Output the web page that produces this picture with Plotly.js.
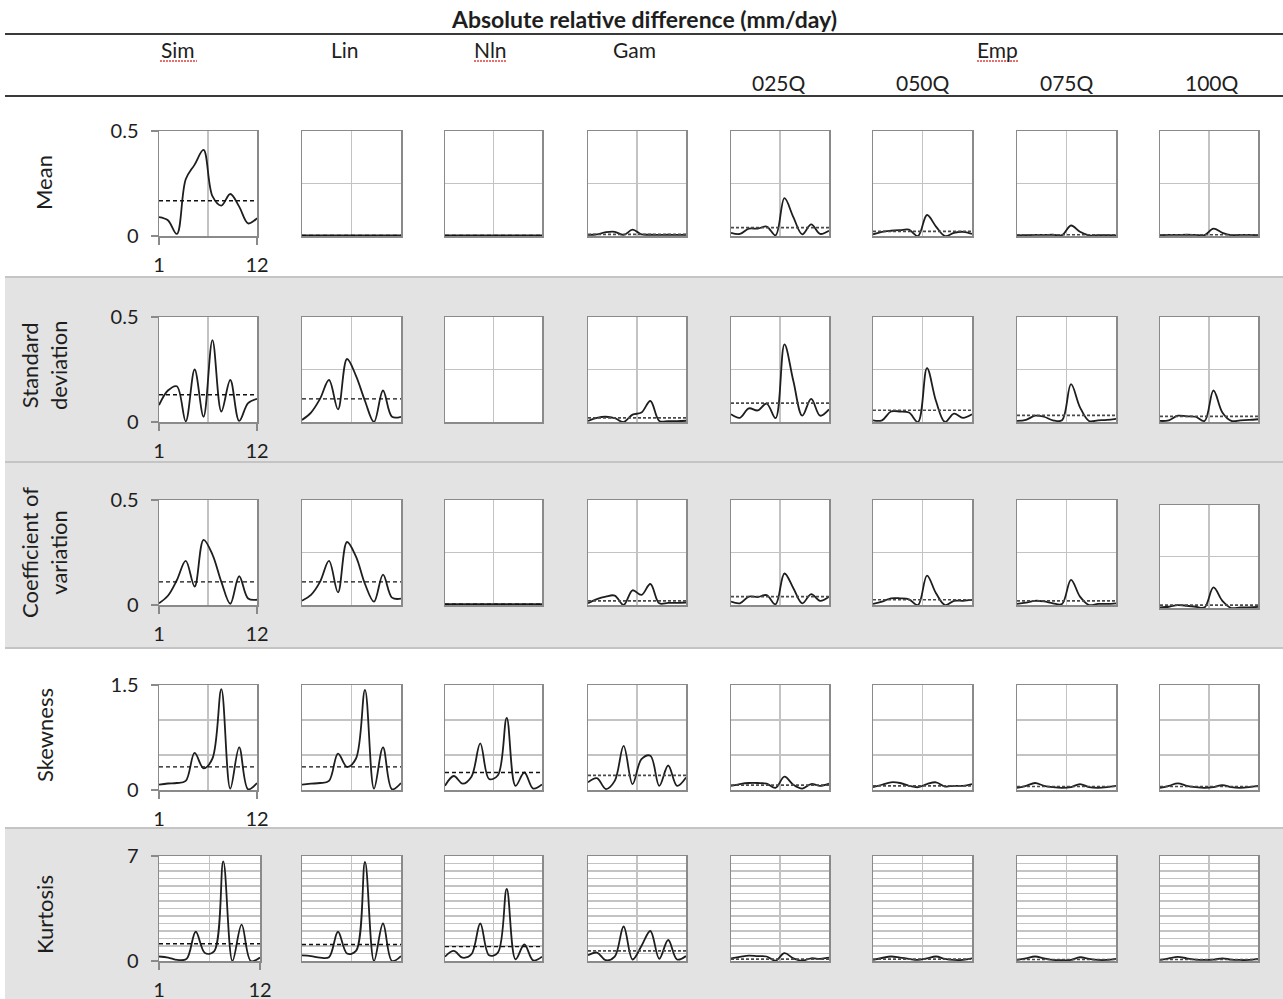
<!DOCTYPE html>
<html>
<head>
<meta charset="utf-8">
<script src="https://cdn.plot.ly/plotly-3.0.1.min.js"></script>
<style>html,body{margin:0;padding:0;background:#fff;}#chart{width:1283px;height:999px;}</style>
</head>
<body>
<div id="chart"></div>
<script>
// ---------- data ----------
const months = [1,2,3,4,5,6,7,8,9,10,11,12];
const columnLabels = ['Sim','Lin','Nln','Gam','025Q','050Q','075Q','100Q'];
const groupLabels = ['Sim','Lin','Nln','Gam','Emp'];
const rowLabels = ['Mean','Standard<br>deviation','Coefficient of<br>variation','Skewness','Kurtosis'];
const chartTitle = 'Absolute relative difference (mm/day)';
const xTickText = ['1','12'];

// Mean
const meanSim = [0.09,0.075,0.01,0.27,0.34,0.41,0.19,0.145,0.2,0.14,0.06,0.085];
const meanLin = [0.003,0.003,0.003,0.003,0.003,0.003,0.003,0.003,0.003,0.003,0.003,0.003];
const meanNln = [0.003,0.003,0.003,0.003,0.003,0.003,0.003,0.003,0.003,0.003,0.003,0.003];
const meanGam = [0.005,0.008,0.018,0.02,0.005,0.03,0.008,0.006,0.005,0.006,0.005,0.006];
const mean025Q = [0.015,0.01,0.035,0.035,0.045,0.003,0.18,0.09,0.008,0.055,0.01,0.025];
const mean050Q = [0.008,0.02,0.025,0.028,0.03,0.0,0.1,0.045,0.0,0.015,0.02,0.01];
const mean075Q = [0.003,0.004,0.005,0.005,0.006,0.004,0.05,0.02,0.003,0.004,0.004,0.003];
const mean100Q = [0.004,0.005,0.005,0.006,0.005,0.004,0.035,0.015,0.004,0.005,0.005,0.004];
const meanAvg = [0.168,0.003,0.003,0.008,0.04,0.022,0.006,0.006];

// Standard deviation
const sdSim = [0.08,0.15,0.17,0.003,0.25,0.025,0.39,0.05,0.2,0.005,0.09,0.11];
const sdLin = [0.01,0.045,0.11,0.2,0.06,0.3,0.22,0.1,0.0,0.15,0.025,0.025];
const sdNln = [null,null,null,null,null,null,null,null,null,null,null,null];
const sdGam = [0.005,0.02,0.025,0.018,0.0,0.035,0.045,0.1,0.005,0.004,0.004,0.006];
const sd025Q = [0.037,0.02,0.065,0.055,0.088,0.018,0.37,0.195,0.03,0.11,0.03,0.06];
const sd050Q = [0.008,0.008,0.05,0.05,0.045,0.0,0.257,0.1,0.0,0.04,0.02,0.037];
const sd075Q = [0.005,0.01,0.03,0.025,0.008,0.008,0.18,0.07,0.005,0.008,0.01,0.015];
const sd100Q = [0.005,0.008,0.03,0.027,0.025,0.005,0.15,0.045,0.005,0.008,0.01,0.013];
const sdAvg = [0.13,0.11,null,0.02,0.09,0.056,0.032,0.027];

// Coefficient of variation
const cvSim = [0.008,0.044,0.118,0.21,0.088,0.31,0.24,0.11,0.006,0.137,0.031,0.025];
const cvLin = [0.02,0.048,0.11,0.21,0.06,0.3,0.23,0.1,0.016,0.145,0.035,0.03];
const cvNln = [0.004,0.004,0.004,0.004,0.004,0.004,0.004,0.004,0.004,0.004,0.004,0.004];
const cvGam = [0.008,0.028,0.04,0.045,0.0,0.07,0.048,0.1,0.008,0.01,0.01,0.012];
const cv025Q = [0.016,0.008,0.04,0.038,0.047,0.003,0.15,0.08,0.008,0.052,0.02,0.04];
const cv050Q = [0.005,0.016,0.032,0.032,0.027,0.0,0.14,0.056,0.0,0.02,0.02,0.024];
const cv075Q = [0.005,0.011,0.02,0.017,0.008,0.005,0.12,0.04,0.0,0.005,0.005,0.008];
const cv100Q = [0.003,0.006,0.014,0.011,0.006,0.003,0.1,0.035,0.0,0.003,0.003,0.005];
const cvAvg = [0.11,0.11,0.004,0.02,0.04,0.025,0.02,0.014];

// Skewness
const skSim = [0.078,0.093,0.1,0.13,0.53,0.31,0.45,1.44,0.02,0.61,0.01,0.1];
const skLin = [0.078,0.09,0.1,0.13,0.52,0.33,0.45,1.43,0.02,0.61,0.01,0.1];
const skNln = [0.062,0.2,0.09,0.19,0.667,0.157,0.21,1.03,0.06,0.25,0.02,0.08];
const skGam = [0.11,0.17,0.014,0.13,0.63,0.085,0.44,0.49,0.06,0.35,0.06,0.18];
const sk025Q = [0.06,0.085,0.1,0.1,0.09,0.03,0.19,0.075,0.02,0.085,0.06,0.09];
const sk050Q = [0.04,0.075,0.11,0.1,0.06,0.04,0.085,0.11,0.05,0.06,0.06,0.085];
const sk075Q = [0.03,0.06,0.1,0.06,0.04,0.03,0.04,0.085,0.04,0.03,0.04,0.06];
const sk100Q = [0.03,0.06,0.095,0.06,0.04,0.03,0.04,0.07,0.04,0.03,0.04,0.06];
const skAvg = [0.33,0.33,0.25,0.21,0.07,0.06,0.05,0.05];

// Kurtosis
const kuSim = [0.3,0.23,0.07,0.14,1.95,0.53,0.64,6.64,0.0,2.43,0.0,0.23];
const kuLin = [0.38,0.33,0.22,0.25,1.95,0.5,0.67,6.6,0.0,2.5,0.0,0.33];
const kuNln = [0.29,0.67,0.22,0.45,2.5,0.38,0.56,4.8,0.11,1.1,0.04,0.29];
const kuGam = [0.38,0.56,0.05,0.29,2.3,0.1,1.0,2.0,0.15,1.4,0.1,0.33];
const ku025Q = [0.18,0.27,0.36,0.32,0.3,0.02,0.52,0.18,0.02,0.18,0.14,0.22];
const ku050Q = [0.07,0.2,0.3,0.23,0.14,0.07,0.18,0.3,0.14,0.07,0.07,0.18];
const ku075Q = [0.07,0.18,0.3,0.18,0.07,0.05,0.07,0.25,0.14,0.07,0.07,0.14];
const ku100Q = [0.07,0.18,0.27,0.18,0.09,0.07,0.09,0.18,0.09,0.07,0.07,0.14];
const kuAvg = [1.15,1.1,0.96,0.67,0.13,0.12,0.1,0.1];

// axis scales per row
const rowMax = [0.5,0.5,0.5,1.5,7];
const rowMaxText = ['0.5','0.5','0.5','1.5','7'];
const rowGrid = [[0.25],[0.25],[0.25],[0.5,1.0],[0.5,1,1.5,2,2.5,3,3.5,4,4.5,5,5.5,6,6.5]];

const rowSeries = [
  [meanSim,meanLin,meanNln,meanGam,mean025Q,mean050Q,mean075Q,mean100Q],
  [sdSim,sdLin,sdNln,sdGam,sd025Q,sd050Q,sd075Q,sd100Q],
  [cvSim,cvLin,cvNln,cvGam,cv025Q,cv050Q,cv075Q,cv100Q],
  [skSim,skLin,skNln,skGam,sk025Q,sk050Q,sk075Q,sk100Q],
  [kuSim,kuLin,kuNln,kuGam,ku025Q,ku050Q,ku075Q,ku100Q]
];
const rowAvg = [meanAvg,sdAvg,cvAvg,skAvg,kuAvg];

// ---------- layout geometry (pixels) ----------
const W = 1283, H = 999;
const colX = [[159,257],[302,401],[445,542],[588,686],[731,829],[873,972],[1017,1116],[1160,1258]];
const rowY = [[131,236],[317,422],[500,605],[685,790],[856,961]];
function boxFor(r,c){
  let x = colX[c].slice(), y = rowY[r].slice();
  if(r===4 && c===0){ x=[159,260]; }
  if(r===2 && c===7){ y=[505,608]; }
  return {x,y};
}
const fx = p => p/W;
const fy = p => 1 - p/H;

const FONT = 'Lato, "Open Sans", sans-serif';
const TXT = '#1e1e1e';
const BOX = '#8a8a8a';
const GRID = '#c3c3c3';
const GRAYBG = '#e3e3e3';

const traces = [];
const layout = {
  width: W, height: H, autosize: false,
  margin: {l:0,r:0,t:0,b:0},
  paper_bgcolor: '#ffffff', plot_bgcolor: '#ffffff',
  showlegend: false,
  font: {family: FONT, color: TXT, size: 18},
  shapes: [], annotations: []
};

// background bands (drawn first)
layout.shapes.push({type:'rect',xref:'paper',yref:'paper',x0:fx(5),x1:1,y0:fy(278),y1:fy(647),fillcolor:GRAYBG,line:{width:0},layer:'below'});
layout.shapes.push({type:'rect',xref:'paper',yref:'paper',x0:fx(5),x1:1,y0:0,y1:fy(829),fillcolor:GRAYBG,line:{width:0},layer:'below'});

for(let r=0;r<5;r++){
  for(let c=0;c<8;c++){
    const k = r*8+c+1;
    const b = boxFor(r,c);
    const xa = 'xaxis'+k, ya = 'yaxis'+k;
    const isSim = c===0;
    const emp = c>=3;
    // white panel background
    layout.shapes.push({type:'rect',xref:'x'+k+' domain',yref:'y'+k+' domain',x0:0,x1:1,y0:0,y1:1,fillcolor:'#ffffff',line:{width:0},layer:'below'});
    layout[xa] = {
      domain:[fx(b.x[0]),fx(b.x[1])], anchor:'y'+k, range:[1,12], fixedrange:true,
      showline:true, mirror:true, linecolor:BOX, linewidth:1.5, zeroline:false,
      showgrid:false,
      tickmode:'array', tickvals: isSim?[1,12]:[], ticktext: isSim?xTickText:[],
      ticks: isSim?'outside':'', ticklen:7, tickcolor:BOX, tickwidth:1.3,
      showticklabels:isSim, ticklabelstandoff:3,
      tickfont:{family:FONT,size:20,color:TXT},
      minor:{tickmode:'array', tickvals:[6.5], showgrid:true, gridcolor:GRID, gridwidth:1.3, ticks:''}
    };
    const yax = {
      domain:[fy(b.y[1]),fy(b.y[0])], anchor:'x'+k, range:[0,rowMax[r]], fixedrange:true,
      showline:true, mirror:true, linecolor:BOX, linewidth:1.5, zeroline:false,
      tickfont:{family:FONT,size:20,color:TXT}
    };
    if(isSim){
      Object.assign(yax,{tickmode:'array', tickvals:[0,rowMax[r]], ticktext:['0',rowMaxText[r]],
        ticks:'outside', ticklen:7, tickcolor:BOX, tickwidth:1.3, showgrid:false, showticklabels:true, ticklabelstandoff:8});
      if(r>=3){ yax.minor = {tickmode:'array', tickvals:rowGrid[r], showgrid:true, gridcolor:GRID, gridwidth:1.3, ticks:''}; }
    } else {
      Object.assign(yax,{tickmode:'array', tickvals:rowGrid[r], showgrid:true, gridcolor:GRID, gridwidth:1.3, ticks:'', showticklabels:false});
    }
    layout[ya] = yax;

    traces.push({
      x: months, y: rowSeries[r][c], xaxis:'x'+k, yaxis:'y'+k, type:'scatter', mode:'lines',
      line:{shape:'spline', smoothing:1, color:'#1e1e1e', width:1.8}, hoverinfo:'skip', connectgaps:false
    });
    const a = rowAvg[r][c];
    traces.push({
      x: [months[0], months[months.length-1]], y:[a,a], xaxis:'x'+k, yaxis:'y'+k, type:'scatter', mode:'lines',
      line:{color: emp?'#4a4a4a':'#111111', width: emp?1.7:1.4, dash: emp?'3px,2px':'4px,3px'}, hoverinfo:'skip'
    });
  }
}

// horizontal rules
function hline(y, color, w){
  layout.shapes.push({type:'line',xref:'paper',yref:'paper',x0:fx(5),x1:1,y0:fy(y),y1:fy(y),line:{color:color,width:w}});
}
hline(34,'#3a3a3a',2);
hline(96,'#3a3a3a',2);
hline(277,'#c4c4c4',2);
hline(462,'#c4c4c4',2);
hline(648,'#c4c4c4',2);
hline(828,'#c4c4c4',2);

// spell-check underlines (as in the source screenshot)
[[160,197],[474,507],[977,1018]].forEach(p=>{
  layout.shapes.push({type:'line',xref:'paper',yref:'paper',x0:fx(p[0]),x1:fx(p[1]),y0:fy(61),y1:fy(61),line:{color:'#e04040',width:1.5,dash:'2px,1px'}});
});

// texts
function ann(text,x,y,opts){
  layout.annotations.push(Object.assign({text:text,x:fx(x),y:fy(y),xref:'paper',yref:'paper',showarrow:false,
    xanchor:'center',yanchor:'middle',font:{family:FONT,size:20,color:TXT}},opts||{}));
}
ann('<b>'+chartTitle+'</b>',644,19,{font:{family:FONT,size:23,color:TXT}});
const groupX = [178,345,490,634,997];
groupLabels.forEach((t,i)=>ann(t,groupX[i],50,{font:{family:FONT,size:21,color:TXT}}));
const subX = [779,923,1067,1212];
columnLabels.slice(4).forEach((t,i)=>ann(t,subX[i],82,{font:{family:FONT,size:21,color:TXT}}));
const rowLabelY = [183,366,553,735,915];
rowLabels.forEach((t,i)=>ann(t,44,rowLabelY[i],{textangle:-90,font:{family:FONT,size:22,color:TXT}}));

Plotly.newPlot('chart', traces, layout, {staticPlot:true, displayModeBar:false});
</script>
</body>
</html>
